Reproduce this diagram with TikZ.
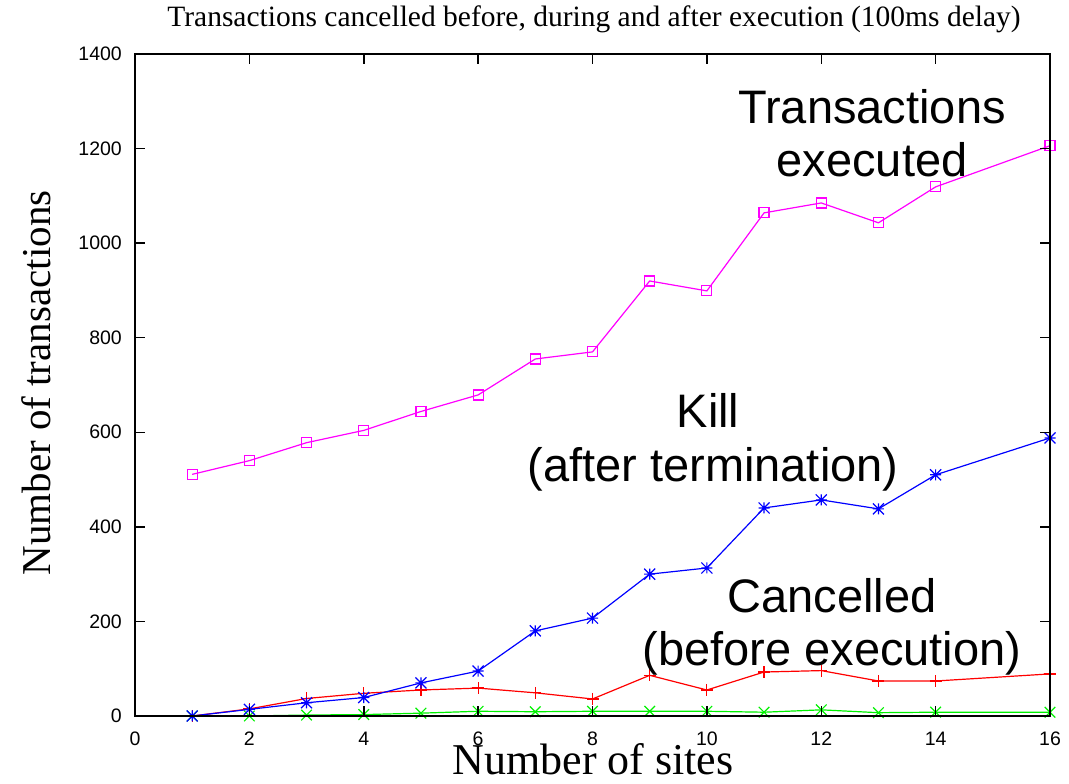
\documentclass[tikz,border=0pt]{standalone}
\usepackage{fontspec}
\setmainfont{Liberation Serif}
\setsansfont{Liberation Sans}
\usetikzlibrary{plotmarks}

% gnuplot-style asterisk: a plus and a cross drawn on top of each other
\pgfdeclareplotmark{gpstar}{%
  \pgfpathmoveto{\pgfqpoint{-\pgfplotmarksize}{0pt}}%
  \pgfpathlineto{\pgfqpoint{\pgfplotmarksize}{0pt}}%
  \pgfpathmoveto{\pgfqpoint{0pt}{-\pgfplotmarksize}}%
  \pgfpathlineto{\pgfqpoint{0pt}{\pgfplotmarksize}}%
  \pgfpathmoveto{\pgfqpoint{-\pgfplotmarksize}{-\pgfplotmarksize}}%
  \pgfpathlineto{\pgfqpoint{\pgfplotmarksize}{\pgfplotmarksize}}%
  \pgfpathmoveto{\pgfqpoint{-\pgfplotmarksize}{\pgfplotmarksize}}%
  \pgfpathlineto{\pgfqpoint{\pgfplotmarksize}{-\pgfplotmarksize}}%
  \pgfusepathqstroke}

\definecolor{gpmagenta}{rgb}{1,0,1}
\definecolor{gpblue}{rgb}{0,0,1}
\definecolor{gpred}{rgb}{1,0,0}
\definecolor{gpgreen}{rgb}{0,0.95,0}

\begin{document}
\begin{tikzpicture}[x=1pt,y=1pt,
  axisframe/.style={line width=1.8pt, black},
  majortick/.style={line width=1.5pt, black},
  ticklabel/.style={font=\fontsize{19.5}{20}\selectfont\sffamily, inner sep=0pt},
  series/.style={line width=1.2pt, draw=#1,
    mark options={solid, line width=1.2pt, draw=#1, fill=none}},
  notetext/.style={font=\fontsize{47}{47}\selectfont\sffamily, anchor=base, inner sep=0pt},
  axistitle/.style={inner sep=0pt, anchor=base},
]
\path[use as bounding box, fill=white] (0,0) rectangle (1069,784);

% plot title and axis titles
\node[axistitle, font=\fontsize{29.5}{30}\selectfont] (title) at (594,757)
  {Transactions cancelled before, during and after execution (100ms delay)};
\node[axistitle, font=\fontsize{44}{44}\selectfont] (xtitle) at (593,9) {Number of sites};
\node[axistitle, font=\fontsize{41}{41}\selectfont, rotate=90] (ytitle) at (50,401)
  {Number of transactions};

\begin{scope}[shift={(135,68)}, x=57.1875pt, y=0.472857pt]
  % data series
  \draw[series=gpred, mark=+, mark size=6pt] plot coordinates {
    (1,0) (2,15) (3,37) (4,48) (5,55) (6,59) (7,49) (8,36) (9,86)
    (10,55) (11,93) (12,96) (13,74) (14,74) (16,89)};
  \draw[series=gpgreen, mark=x, mark size=7.5pt] plot coordinates {
    (1,0) (2,0) (3,2) (4,3) (5,6) (6,10) (7,9) (8,10) (9,10)
    (10,10) (11,8) (12,13) (13,7) (14,8) (16,8)};
  \draw[series=gpblue, mark=gpstar, mark size=5.5pt] plot coordinates {
    (1,0) (2,14) (3,28) (4,39) (5,70) (6,95) (7,180) (8,207) (9,300)
    (10,313) (11,440) (12,457) (13,438) (14,510) (16,588)};
  \draw[series=gpmagenta, mark=square, mark size=5pt] plot coordinates {
    (1,511) (2,540) (3,578) (4,604) (5,644) (6,679) (7,755) (8,770) (9,920)
    (10,899) (11,1064) (12,1085) (13,1043) (14,1119) (16,1206)};

  % frame and tick marks
  \draw[axisframe] (0,0) rectangle (16,1400);
  \foreach \i in {0,2,...,16} {
    \draw[majortick] (\i,0) -- ++(0,10pt);
    \draw[majortick] (\i,1400) -- ++(0,-10pt);
    \node[ticklabel] (xlab\i) at ([yshift=-22.5pt]\i,0) {\i};
  }
  \foreach \v in {0,200,...,1400} {
    \draw[majortick] (0,\v) -- ++(10pt,0);
    \draw[majortick] (16,\v) -- ++(-10pt,0);
    \node[ticklabel, anchor=east] (ylab\v) at ([xshift=-13pt]0,\v) {\v};
  }
\end{scope}

% series annotations
\node[notetext] (execA) at (872,660) {Transactions};
\node[notetext] (execB) at (872,607) {executed};
\node[notetext] (killA) at (708,356) {Kill};
\node[notetext] (killB) at (713,302) {(after termination)};
\node[notetext] (cancA) at (832,171) {Cancelled};
\node[notetext] (cancB) at (832,118) {(before execution)};
\end{tikzpicture}
\end{document}
